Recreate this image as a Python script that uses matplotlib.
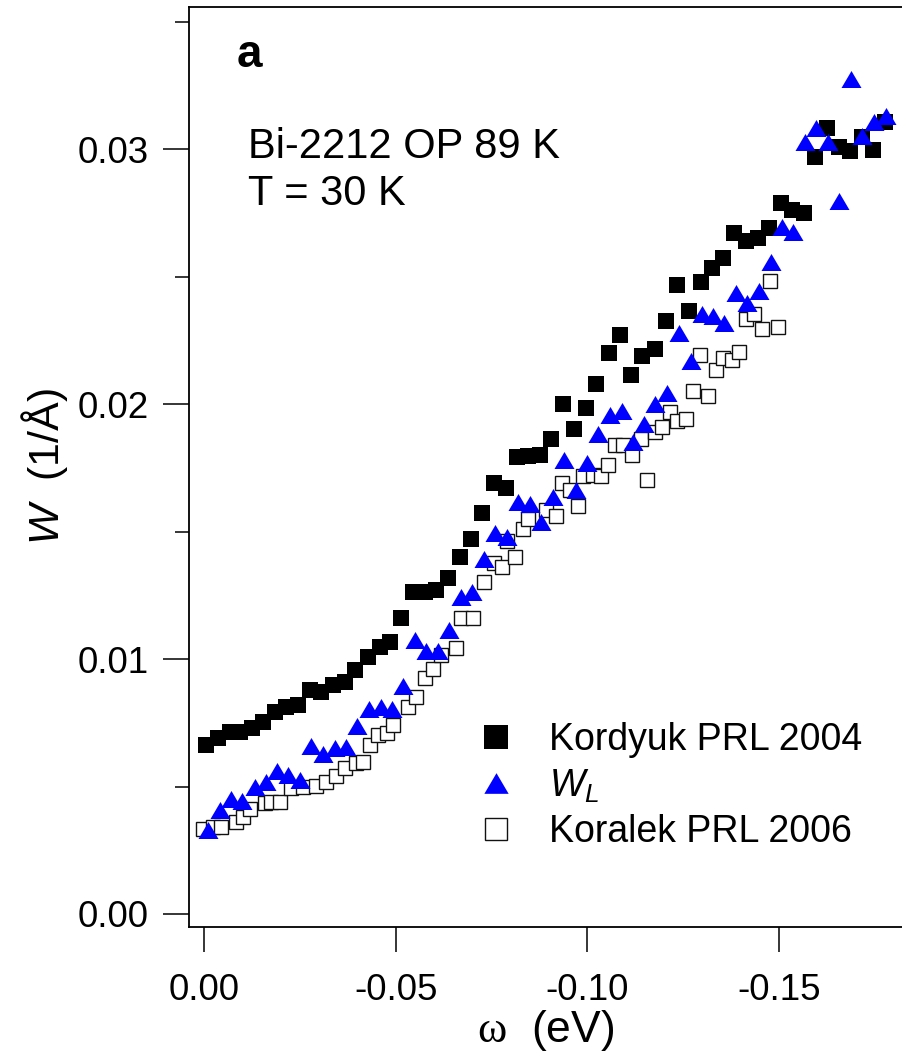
import matplotlib
matplotlib.use('Agg')
import matplotlib.pyplot as plt
from matplotlib.lines import Line2D
from matplotlib.ticker import FixedLocator, FormatStrFormatter

plt.rcParams['font.family'] = ['Liberation Sans', 'DejaVu Sans']
plt.rcParams['mathtext.fontset'] = 'custom'
plt.rcParams['mathtext.it'] = 'Liberation Sans:italic'
plt.rcParams['mathtext.rm'] = 'Liberation Serif'
plt.rcParams['axes.unicode_minus'] = False

# Kordyuk PRL 2004
omega_kordyuk = [-0.0006, -0.0037, -0.0067, -0.0093, -0.0124, -0.0154, -0.0184, -0.0215,
                 -0.0245, -0.0276, -0.0306, -0.0336, -0.0367, -0.0395, -0.0428, -0.0458,
                 -0.0486, -0.0515, -0.0545, -0.0576, -0.0606, -0.0636, -0.0667, -0.0696,
                 -0.0726, -0.0756, -0.0787, -0.0816, -0.0845, -0.0876, -0.0906, -0.0936,
                 -0.0964, -0.0996, -0.1023, -0.1055, -0.1084, -0.1113, -0.1143, -0.1176,
                 -0.1204, -0.1233, -0.1264, -0.1296, -0.1324, -0.1353, -0.1382, -0.1413,
                 -0.1444, -0.1473, -0.1504, -0.1533, -0.1564, -0.1593, -0.1624, -0.1655,
                 -0.1685, -0.1715, -0.1744, -0.1775]
w_kordyuk = [0.00663, 0.00689, 0.00715, 0.00715, 0.00728, 0.00754, 0.00793, 0.00813,
             0.00820, 0.00878, 0.00872, 0.00898, 0.00911, 0.00957, 0.01009, 0.01048,
             0.01068, 0.01160, 0.01264, 0.01264, 0.01271, 0.01316, 0.01401, 0.01469,
             0.01571, 0.01689, 0.01669, 0.01791, 0.01796, 0.01800, 0.01862, 0.01999,
             0.01901, 0.01983, 0.02078, 0.02199, 0.02270, 0.02113, 0.02188, 0.02215,
             0.02324, 0.02465, 0.02363, 0.02480, 0.02532, 0.02571, 0.02669, 0.02639,
             0.02651, 0.02689, 0.02787, 0.02761, 0.02751, 0.02969, 0.03084, 0.03009,
             0.02991, 0.03048, 0.02996, 0.03106]

# W_L
omega_wl = [-0.0010, -0.0041, -0.0071, -0.0100, -0.0132, -0.0161, -0.0190, -0.0219,
            -0.0250, -0.0280, -0.0310, -0.0341, -0.0371, -0.0400, -0.0430, -0.0461,
            -0.0490, -0.0519, -0.0550, -0.0580, -0.0610, -0.0639, -0.0670, -0.0700,
            -0.0730, -0.0760, -0.0789, -0.0819, -0.0850, -0.0880, -0.0909, -0.0938,
            -0.0969, -0.0998, -0.1028, -0.1059, -0.1089, -0.1119, -0.1148, -0.1177,
            -0.1208, -0.1238, -0.1269, -0.1298, -0.1327, -0.1357, -0.1387, -0.1417,
            -0.1448, -0.1478, -0.1508, -0.1536, -0.1567, -0.1597, -0.1628, -0.1656,
            -0.1687, -0.1716, -0.1748, -0.1777]
w_wl = [0.00329, 0.00408, 0.00450, 0.00444, 0.00497, 0.00519, 0.00561, 0.00545,
        0.00525, 0.00659, 0.00627, 0.00650, 0.00656, 0.00738, 0.00803, 0.00811,
        0.00804, 0.00894, 0.01075, 0.01033, 0.01033, 0.01114, 0.01244, 0.01264,
        0.01391, 0.01493, 0.01480, 0.01617, 0.01608, 0.01538, 0.01636, 0.01779,
        0.01663, 0.01769, 0.01884, 0.01957, 0.01973, 0.01852, 0.01920, 0.02000,
        0.02044, 0.02280, 0.02170, 0.02352, 0.02345, 0.02316, 0.02434, 0.02395,
        0.02442, 0.02558, 0.02693, 0.02673, 0.03029, 0.03081, 0.03029, 0.02797,
        0.03275, 0.03051, 0.03107, 0.03129]

# Koralek PRL 2006
omega_koralek = [0.0003, -0.0023, -0.0045, -0.0083, -0.0102, -0.0119, -0.0158, -0.0176,
                 -0.0197, -0.0228, -0.0258, -0.0291, -0.0319, -0.0345, -0.0367, -0.0397,
                 -0.0415, -0.0432, -0.0454, -0.0476, -0.0493, -0.0532, -0.0554, -0.0576,
                 -0.0596, -0.0619, -0.0658, -0.0671, -0.0702, -0.0730, -0.0756, -0.0778,
                 -0.0790, -0.0812, -0.0832, -0.0844, -0.0893, -0.0917, -0.0933, -0.0955,
                 -0.0975, -0.0989, -0.1014, -0.1034, -0.1053, -0.1071, -0.1093, -0.1116,
                 -0.1139, -0.1154, -0.1176, -0.1193, -0.1215, -0.1234, -0.1256, -0.1274,
                 -0.1293, -0.1313, -0.1336, -0.1352, -0.1376, -0.1395, -0.1413, -0.1435,
                 -0.1454, -0.1475, -0.1496]
w_koralek = [0.00332, 0.00342, 0.00342, 0.00362, 0.00382, 0.00411, 0.00436, 0.00440,
             0.00440, 0.00493, 0.00499, 0.00503, 0.00519, 0.00541, 0.00571, 0.00593,
             0.00597, 0.00663, 0.00702, 0.00709, 0.00741, 0.00813, 0.00850, 0.00924,
             0.00960, 0.01016, 0.01042, 0.01160, 0.01160, 0.01301, 0.01378, 0.01360,
             0.01464, 0.01399, 0.01510, 0.01548, 0.01584, 0.01562, 0.01689, 0.01663,
             0.01600, 0.01719, 0.01722, 0.01719, 0.01761, 0.01841, 0.01841, 0.01800,
             0.01861, 0.01702, 0.01891, 0.01909, 0.01970, 0.01933, 0.01940, 0.02051,
             0.02192, 0.02031, 0.02133, 0.02182, 0.02173, 0.02203, 0.02333, 0.02352,
             0.02293, 0.02482, 0.02301]

x_ticks = [0.0, -0.05, -0.10, -0.15]
y_ticks = [0.0, 0.01, 0.02, 0.03]
y_minor = [0.005, 0.015, 0.025, 0.035]

# triangle a bit flatter than the default '^'
tri = [(-1, -0.85), (1, -0.85), (0, 0.85), (-1, -0.85)]

fig = plt.figure(figsize=(9.02, 10.54), dpi=100)
ax = fig.add_axes([189 / 902, 127 / 1054, 713 / 902, 920 / 1054])

ax.plot(omega_kordyuk, w_kordyuk, ls='none', marker='s', ms=11.3,
        mfc='black', mec='black', mew=0)
ax.plot(omega_koralek, w_koralek, ls='none', marker='s', ms=10.3,
        mfc='white', mec='#111111', mew=1.0)
ax.plot(omega_wl, w_wl, ls='none', marker=tri, ms=14.4,
        mfc='#0000ff', mec='#0000ff', mew=0)

ax.set_xlim(0.0039, -0.1820)
ax.set_ylim(-0.00051, 0.03557)

ax.xaxis.set_major_locator(FixedLocator(x_ticks))
ax.xaxis.set_major_formatter(FormatStrFormatter('%.2f'))
ax.yaxis.set_major_locator(FixedLocator(y_ticks))
ax.yaxis.set_minor_locator(FixedLocator(y_minor))
ax.yaxis.set_major_formatter(FormatStrFormatter('%.2f'))

ax.tick_params(axis='y', which='major', direction='out', length=18.7, width=1.1,
               pad=10.5, labelsize=26.5)
ax.tick_params(axis='y', which='minor', direction='out', length=10, width=1.1)
ax.tick_params(axis='x', which='major', direction='out', length=18, width=1.1,
               pad=15, labelsize=26.5)

ax.spines['right'].set_visible(False)
for s in ['left', 'top', 'bottom']:
    ax.spines[s].set_linewidth(1.3)

ax.set_ylabel(r'$W$  (1/Å)', fontsize=31)
ax.yaxis.set_label_coords(-0.167, 0.5)
ax.set_xlabel(r'$\mathrm{\omega}$  (eV)', fontsize=32)
ax.xaxis.set_label_coords(0.5, -0.088)

fig.text(237 / 902, 1 - 67 / 1054, 'a', fontsize=33, fontweight='bold', va='baseline')
fig.text(248 / 902, 1 - 158 / 1054, 'Bi-2212 OP 89 K', fontsize=30, va='baseline')
fig.text(248 / 902, 1 - 205 / 1054, 'T = 30 K', fontsize=30, va='baseline')

handles = [
    Line2D([], [], ls='none', marker='s', ms=17, mfc='black', mec='black', mew=0),
    Line2D([], [], ls='none', marker=tri, ms=17.5, mfc='#0000ff', mec='#0000ff', mew=0),
    Line2D([], [], ls='none', marker='s', ms=16, mfc='white', mec='#111111', mew=1.0),
]
labels = ['Kordyuk PRL 2004', r'$W_L$', 'Koralek PRL 2006']
ax.legend(handles, labels, loc='upper left', bbox_to_anchor=(477 / 902, 1 - 722 / 1054),
          bbox_transform=fig.transFigure, frameon=False, fontsize=27,
          handlelength=1.0, handletextpad=0.92, labelspacing=0.25,
          borderpad=0, borderaxespad=0)

fig.savefig('out.png', dpi=100)
